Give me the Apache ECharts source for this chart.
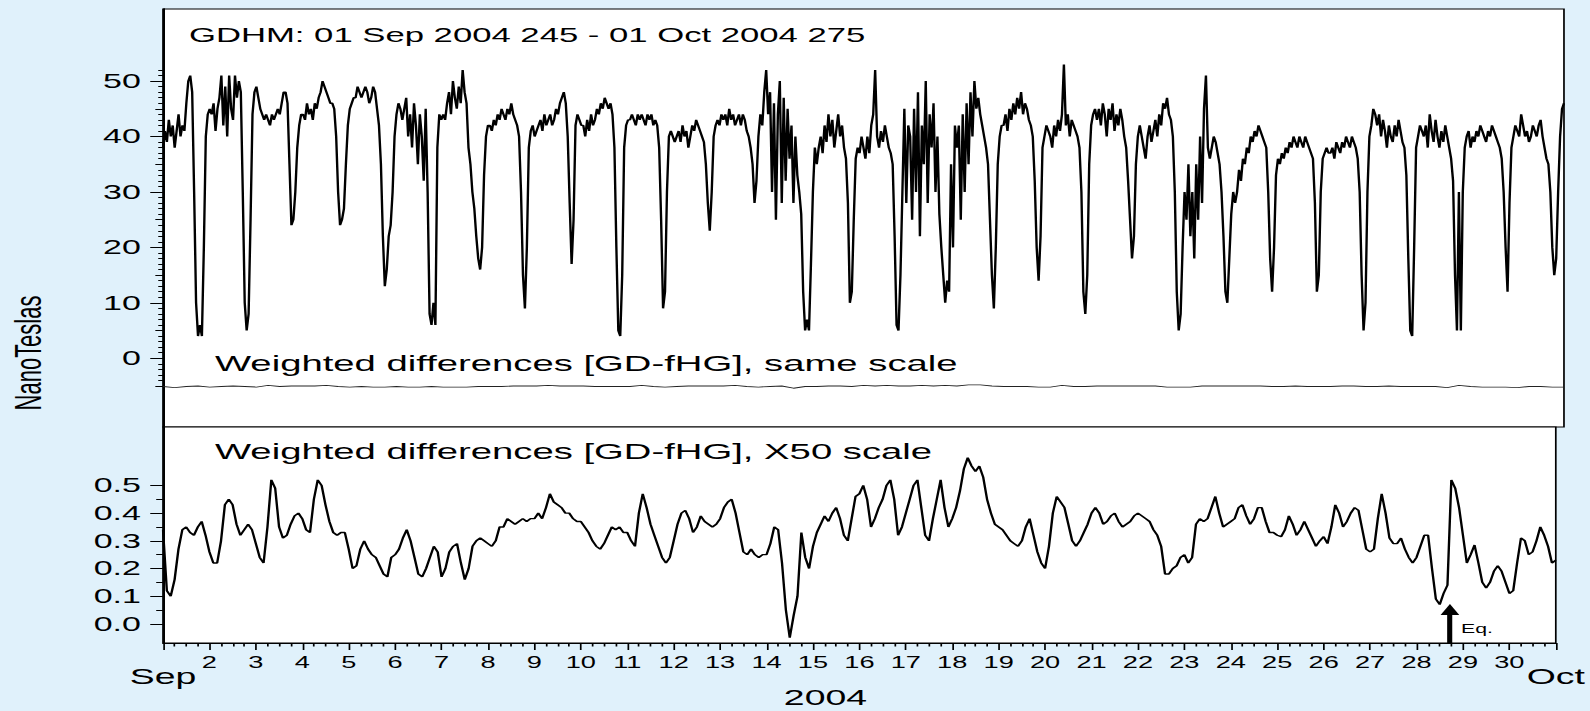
<!DOCTYPE html>
<html>
<head>
<meta charset="utf-8">
<script src="https://cdn.jsdelivr.net/npm/echarts@6/dist/echarts.min.js"></script>
<style>
  html, body { margin: 0; padding: 0; background: #e0f1fb; overflow: hidden; }
  /* the original figure is stretched sideways, so the chart is drawn narrow and widened */
  #main { width: 935px; height: 711px; transform: scaleX(1.70053); transform-origin: 0 0; }
</style>
</head>
<body>
<div id="main"></div>
<script>
// x axis: days since 01 Sep 2004 00:00 UT
const dayLabels = ['Sep', '2', '3', '4', '5', '6', '7', '8', '9', '10', '11', '12', '13', '14', '15',
  '16', '17', '18', '19', '20', '21', '22', '23', '24', '25', '26', '27', '28', '29', '30', 'Oct'];
const topTicks = [0, 10, 20, 30, 40, 50];
const bottomTicks = [0, 0.1, 0.2, 0.3, 0.4, 0.5];
const eqTime = 27.72; // 28 Sep 2004, ~17 UT

// GDHM, hourly, nT
const gdhm = [
  38, 41, 39, 43, 40, 42, 38, 41, 44, 40, 42, 41, 46, 50, 51, 48, 30, 10, 4, 6, 4, 20, 40, 44,
  45, 44, 46, 41, 45, 47, 51, 42, 49, 40, 51, 45, 43, 51, 47, 50, 48, 30, 10, 5, 8, 25, 44, 48,
  49, 47, 45, 44, 43, 44, 43, 42, 44, 43, 44, 45, 44, 46, 48, 48, 46, 35, 24, 25, 30, 38, 42, 44,
  44, 43, 46, 44, 45, 43, 46, 45, 47, 48, 50, 49, 48, 47, 46, 46, 45, 40, 30, 24, 25, 27, 35, 42,
  45, 46, 47, 47, 49, 48, 47, 48, 49, 48, 46, 47, 49, 48, 45, 42, 35, 22, 13, 16, 22, 24, 30, 40,
  44, 46, 45, 43, 45, 47, 40, 44, 38, 46, 42, 35, 44, 40, 32, 45, 30, 8, 6, 10, 6, 38, 44, 43,
  44, 43, 46, 48, 44, 50, 47, 45, 49, 46, 52, 48, 46, 38, 35, 30, 27, 22, 18, 16, 20, 33, 40, 42,
  42, 41, 43, 42, 44, 43, 45, 44, 43, 45, 44, 46, 44, 43, 42, 40, 30, 15, 9, 20, 38, 41, 42, 40,
  41, 42, 43, 41, 44, 42, 43, 44, 42, 43, 45, 44, 46, 47, 48, 46, 40, 28, 17, 25, 42, 44, 43, 42,
  42, 40, 43, 41, 44, 42, 43, 45, 44, 46, 45, 47, 46, 45, 46, 44, 38, 20, 5, 4, 15, 38, 42, 43,
  43, 44, 43, 42, 44, 43, 44, 43, 42, 44, 43, 44, 42, 43, 42, 38, 25, 9, 12, 30, 40, 41, 40, 39,
  40, 41, 39, 42, 40, 41, 38, 40, 42, 41, 43, 42, 41, 40, 39, 35, 28, 23, 30, 40, 42, 43, 42, 44,
  43, 44, 42, 45, 43, 44, 42, 43, 44, 42, 44, 43, 41, 40, 38, 35, 28, 32, 40, 44, 42, 48, 52, 44,
  48, 30, 46, 25, 44, 50, 28, 47, 32, 45, 36, 42, 28, 40, 33, 30, 26, 12, 5, 7, 5, 17, 30, 38,
  35, 38, 40, 37, 42, 39, 44, 40, 43, 38, 41, 44, 40, 42, 38, 36, 28, 10, 12, 25, 36, 38, 37, 40,
  38, 36, 40, 37, 42, 44, 52, 40, 38, 41, 39, 42, 40, 38, 37, 35, 22, 6, 5, 15, 30, 45, 28, 42,
  40, 25, 45, 30, 48, 22, 42, 35, 50, 28, 44, 38, 46, 30, 40, 26, 20, 15, 10, 14, 12, 35, 20, 42,
  38, 42, 25, 44, 30, 46, 35, 48, 40, 50, 45, 47, 44, 42, 40, 38, 35, 25, 15, 9, 20, 35, 40, 42,
  42, 44, 41, 45, 43, 46, 44, 47, 45, 48, 44, 46, 45, 43, 42, 40, 32, 20, 14, 22, 38, 40, 42, 41,
  40, 38, 42, 40, 43, 41, 44, 53, 42, 44, 40, 43, 42, 41, 40, 38, 30, 12, 8, 15, 35, 42, 44, 45,
  43, 45, 42, 46, 44, 40, 45, 43, 46, 41, 44, 42, 45, 43, 40, 38, 32, 25, 18, 22, 35, 40, 42, 40,
  38, 36, 40, 42, 39, 41, 43, 40, 44, 42, 46, 45, 47, 44, 43, 40, 30, 12, 5, 8, 20, 30, 25, 35,
  22, 30, 18, 35, 25, 40, 28, 45, 51, 38, 36, 38, 40, 39, 37, 35, 30, 22, 12, 10, 18, 26, 30, 28,
  30, 34, 32, 36, 35, 38, 37, 40, 39, 41, 40, 42, 41, 40, 39, 38, 30, 18, 12, 20, 33, 36, 35, 37,
  36, 38, 37, 39, 38, 40, 39, 38, 40, 39, 38, 40, 39, 38, 37, 36, 28, 12, 15, 30, 36, 37, 38, 37,
  37, 38, 36, 39, 38, 37, 39, 38, 40, 39, 38, 40, 39, 38, 36, 30, 15, 5, 10, 30, 40, 42, 45, 44,
  42, 44, 40, 43, 41, 38, 42, 40, 39, 42, 40, 43, 41, 39, 38, 33, 18, 5, 4, 20, 38, 40, 42, 41,
  40, 42, 38, 44, 41, 39, 43, 40, 38, 41, 39, 42, 40, 38, 36, 32, 15, 5, 30, 5, 30, 38, 40, 41,
  38, 40, 39, 41, 40, 42, 41, 40, 39, 41, 40, 42, 41, 40, 39, 38, 36, 30, 20, 12, 28, 38, 40, 42,
  41, 40, 44, 42, 40, 41, 39, 40, 42, 41, 40, 42, 43, 40, 38, 36, 35, 30, 20, 15, 18, 30, 40, 45,
  46
];

// weighted differences, same scale (offset), every 6 hours, nT
const sameScale = [
  -5.1, -5.3, -5.1, -5.0, -5.2, -5.1, -5.0, -5.1, -5.2, -4.9, -5.1, -5.0,
  -5.0, -5.0, -4.9, -5.1, -5.2, -5.1, -5.2, -5.2, -5.1, -5.2, -5.2, -5.1,
  -5.2, -5.2, -5.2, -5.1, -5.1, -5.1, -5.0, -5.0, -5.0, -4.9, -5.0, -5.0,
  -5.0, -5.1, -5.1, -5.1, -5.1, -4.9, -5.1, -5.2, -5.1, -5.0, -5.0, -5.0,
  -5.0, -4.9, -5.1, -5.2, -5.1, -5.0, -5.4, -5.1, -5.1, -5.0, -5.0, -5.1,
  -4.9, -5.0, -4.9, -5.0, -5.0, -4.9, -5.0, -4.9, -5.0, -4.8, -4.8, -5.0,
  -5.1, -5.1, -5.1, -5.2, -5.2, -4.9, -5.1, -5.1, -5.0, -5.0, -5.0, -5.0,
  -5.0, -5.0, -5.2, -5.2, -5.2, -5.0, -5.0, -5.0, -5.0, -5.0, -5.0, -5.1,
  -5.1, -5.0, -5.1, -5.1, -5.1, -5.0, -5.0, -5.1, -5.1, -5.0, -5.1, -5.1,
  -5.1, -5.1, -5.3, -4.9, -5.1, -5.2, -5.2, -5.2, -5.3, -5.1, -5.1, -5.2,
  -5.2
];

// weighted differences, X50 scale, every 2 hours, nT
const x50 = [
  0.34, 0.12, 0.10, 0.16, 0.27, 0.34, 0.35, 0.33, 0.32, 0.35, 0.37, 0.32,
  0.26, 0.22, 0.22, 0.30, 0.43, 0.45, 0.43, 0.36, 0.32, 0.34, 0.36, 0.34,
  0.29, 0.24, 0.22, 0.35, 0.52, 0.49, 0.35, 0.31, 0.32, 0.36, 0.39, 0.40,
  0.38, 0.34, 0.33, 0.45, 0.52, 0.50, 0.43, 0.37, 0.33, 0.32, 0.33, 0.33,
  0.27, 0.20, 0.21, 0.27, 0.30, 0.27, 0.25, 0.24, 0.21, 0.18, 0.17, 0.24,
  0.25, 0.27, 0.31, 0.34, 0.30, 0.24, 0.18, 0.17, 0.20, 0.24, 0.28, 0.26,
  0.17, 0.20, 0.26, 0.28, 0.29, 0.22, 0.16, 0.20, 0.28, 0.30, 0.31, 0.30,
  0.29, 0.28, 0.30, 0.35, 0.35, 0.38, 0.37, 0.36, 0.37, 0.38, 0.37, 0.38,
  0.38, 0.40, 0.38, 0.42, 0.47, 0.44, 0.43, 0.42, 0.40, 0.40, 0.38, 0.37,
  0.37, 0.35, 0.33, 0.30, 0.28, 0.27, 0.29, 0.32, 0.35, 0.34, 0.35, 0.33,
  0.33, 0.30, 0.28, 0.40, 0.47, 0.42, 0.36, 0.32, 0.28, 0.24, 0.22, 0.24,
  0.30, 0.36, 0.40, 0.41, 0.38, 0.33, 0.35, 0.39, 0.37, 0.36, 0.35, 0.36,
  0.38, 0.42, 0.44, 0.45, 0.40, 0.33, 0.26, 0.25, 0.27, 0.25, 0.24, 0.25,
  0.25, 0.29, 0.35, 0.34, 0.22, 0.05, -0.05, 0.03, 0.10, 0.33, 0.24, 0.20,
  0.28, 0.33, 0.36, 0.39, 0.37, 0.40, 0.42, 0.38, 0.32, 0.30, 0.38, 0.46,
  0.47, 0.50, 0.45, 0.35, 0.38, 0.42, 0.45, 0.50, 0.52, 0.45, 0.32, 0.35,
  0.40, 0.45, 0.50, 0.52, 0.42, 0.32, 0.30, 0.38, 0.45, 0.52, 0.42, 0.35,
  0.38, 0.42, 0.48, 0.56, 0.60, 0.57, 0.55, 0.57, 0.53, 0.45, 0.40, 0.36,
  0.35, 0.34, 0.32, 0.30, 0.29, 0.28, 0.30, 0.35, 0.38, 0.32, 0.26, 0.22,
  0.20, 0.28, 0.40, 0.46, 0.44, 0.42, 0.36, 0.30, 0.28, 0.30, 0.33, 0.36,
  0.40, 0.42, 0.40, 0.36, 0.37, 0.39, 0.40, 0.37, 0.35, 0.36, 0.37, 0.39,
  0.40, 0.39, 0.38, 0.37, 0.34, 0.32, 0.28, 0.18, 0.18, 0.20, 0.21, 0.24,
  0.25, 0.22, 0.24, 0.36, 0.38, 0.37, 0.38, 0.42, 0.46, 0.40, 0.35, 0.36,
  0.37, 0.38, 0.42, 0.43, 0.39, 0.36, 0.38, 0.42, 0.42, 0.37, 0.33, 0.33,
  0.32, 0.315, 0.34, 0.39, 0.36, 0.32, 0.34, 0.37, 0.34, 0.31, 0.28, 0.30,
  0.315, 0.29, 0.35, 0.43, 0.40, 0.35, 0.37, 0.40, 0.42, 0.41, 0.34, 0.27,
  0.26, 0.27, 0.38, 0.47, 0.40, 0.31, 0.29, 0.29, 0.31, 0.27, 0.24, 0.22,
  0.24, 0.28, 0.32, 0.32, 0.20, 0.09, 0.07, 0.11, 0.14, 0.52, 0.49, 0.42,
  0.32, 0.22, 0.25, 0.285, 0.22, 0.15, 0.13, 0.15, 0.19, 0.21, 0.19, 0.15,
  0.11, 0.12, 0.22, 0.31, 0.30, 0.25, 0.26, 0.30, 0.35, 0.32, 0.28, 0.22,
  0.23
];

const font = '"Liberation Sans", Arial, sans-serif';
const black = '#000';

function toPairs(arr, perDay) {
  return arr.map((v, i) => [i / perDay, v]);
}

// tick positions for the small marks
const topMid = [-5, 5, 15, 25, 35, 45];
const topMinor = [];
for (let v = -5; v <= 52; v++) if (v % 5 !== 0) topMinor.push(v);
const bottomMinor = [0.05, 0.15, 0.25, 0.35, 0.45];

const topRange = { min: -12.4, max: 63 };
const botRange = { min: -0.069, max: 0.711 };

function tickAxis(grid, range, values, len, labels) {
  return {
    type: 'value', gridIndex: grid, position: 'left', offset: 0,
    min: range.min, max: range.max,
    axisLine: { show: true, onZero: false, lineStyle: { color: black, width: 1 } },
    axisTick: { show: true, length: len, customValues: values, lineStyle: { color: black, width: 1 } },
    axisLabel: labels ? Object.assign({
      show: true, customValues: values, color: black, fontSize: 20, fontFamily: font, margin: 13
    }, labels) : { show: false },
    splitLine: { show: false }
  };
}

const chart = echarts.init(document.getElementById('main'), null, { renderer: 'svg' });

chart.setOption({
  backgroundColor: 'transparent',
  animation: false,
  grid: [
    { left: 95.85, right: 15.3, top: 9, height: 418, show: true, backgroundColor: '#fff', borderColor: black, borderWidth: 1 },
    { left: 95.85, right: 15.3, top: 427, height: 216, show: true, backgroundColor: '#fff', borderColor: black, borderWidth: 1 }
  ],
  xAxis: [
    { type: 'value', gridIndex: 0, min: 0, max: 30, axisLine: { show: false }, axisTick: { show: false },
      axisLabel: { show: false }, splitLine: { show: false } },
    { type: 'value', gridIndex: 1, min: 0, max: 30, interval: 1,
      axisLine: { show: true, onZero: false, lineStyle: { color: black, width: 1 } },
      axisTick: { show: true, length: 7, lineStyle: { color: black, width: 1 } },
      minorTick: { show: true, splitNumber: 4, length: 3.5, lineStyle: { color: black, width: 1 } },
      splitLine: { show: false },
      axisLabel: {
        show: true, showMinLabel: true, showMaxLabel: true, margin: 12,
        color: black, fontSize: 16, fontFamily: font,
        formatter: function (v) {
          const s = dayLabels[Math.round(v)];
          return (v === 0 || v === 30) ? '{m|' + s + '}' : s;
        },
        rich: { m: { fontSize: 22, fontFamily: font, color: black, padding: [10, 0, 0, 0] } }
      } }
  ],
  yAxis: [
    tickAxis(0, topRange, topTicks, 7.5, { formatter: v => String(v) }),
    tickAxis(0, topRange, topMid, 4.5, null),
    tickAxis(0, topRange, topMinor, 2.8, null),
    tickAxis(1, botRange, bottomTicks, 7.5, { formatter: v => v.toFixed(1) }),
    tickAxis(1, botRange, bottomMinor, 4, null)
  ],
  series: [
    { name: 'GDHM', type: 'line', xAxisIndex: 0, yAxisIndex: 0, data: toPairs(gdhm, 24),
      showSymbol: false, silent: true, lineStyle: { color: black, width: 1.4 } },
    { name: 'same scale', type: 'line', xAxisIndex: 0, yAxisIndex: 0, data: toPairs(sameScale, 4),
      showSymbol: false, silent: true, lineStyle: { color: '#222', width: 0.9 } },
    { name: 'X50 scale', type: 'line', xAxisIndex: 1, yAxisIndex: 3, data: toPairs(x50, 12),
      showSymbol: false, silent: true, lineStyle: { color: black, width: 1.4 },
      markLine: {
        silent: true, animation: false,
        symbol: ['none', 'triangle'], symbolSize: 11,
        lineStyle: { color: black, width: 3, type: 'solid' },
        itemStyle: { color: black },
        label: { show: false },
        data: [[{ coord: [eqTime, botRange.min] }, { coord: [eqTime, 0.052] }]]
      },
      markPoint: {
        silent: true, symbol: 'circle', symbolSize: 1,
        itemStyle: { color: 'rgba(0,0,0,0)' },
        label: { show: true, position: 'right', distance: 6, formatter: 'Eq.', color: black, fontSize: 12.5, fontFamily: font },
        data: [{ coord: [eqTime, -0.018] }]
      } }
  ],
  graphic: [
    { type: 'text', x: 111.1, y: 34.5, silent: true,
      style: { text: 'GDHM: 01 Sep 2004 245 - 01 Oct 2004 275', fill: black, fontSize: 20.4, fontFamily: font,
        textAlign: 'left', textVerticalAlign: 'middle' } },
    { type: 'text', x: 126.4, y: 363.5, silent: true,
      style: { text: 'Weighted differences [GD-fHG], same scale', fill: black, fontSize: 22.5, fontFamily: font,
        textAlign: 'left', textVerticalAlign: 'middle' } },
    { type: 'text', x: 126.4, y: 451.5, silent: true,
      style: { text: 'Weighted differences [GD-fHG], X50 scale', fill: black, fontSize: 22.5, fontFamily: font,
        textAlign: 'left', textVerticalAlign: 'middle' } },
    { type: 'text', x: 16.5, y: 353, rotation: Math.PI / 2, silent: true,
      style: { text: 'NanoTeslas', fill: black, fontSize: 22, fontFamily: font,
        textAlign: 'center', textVerticalAlign: 'middle' } },
    { type: 'text', x: 485.4, y: 697, silent: true,
      style: { text: '2004', fill: black, fontSize: 22, fontFamily: font,
        textAlign: 'center', textVerticalAlign: 'middle' } }
  ]
});
</script>
</body>
</html>
